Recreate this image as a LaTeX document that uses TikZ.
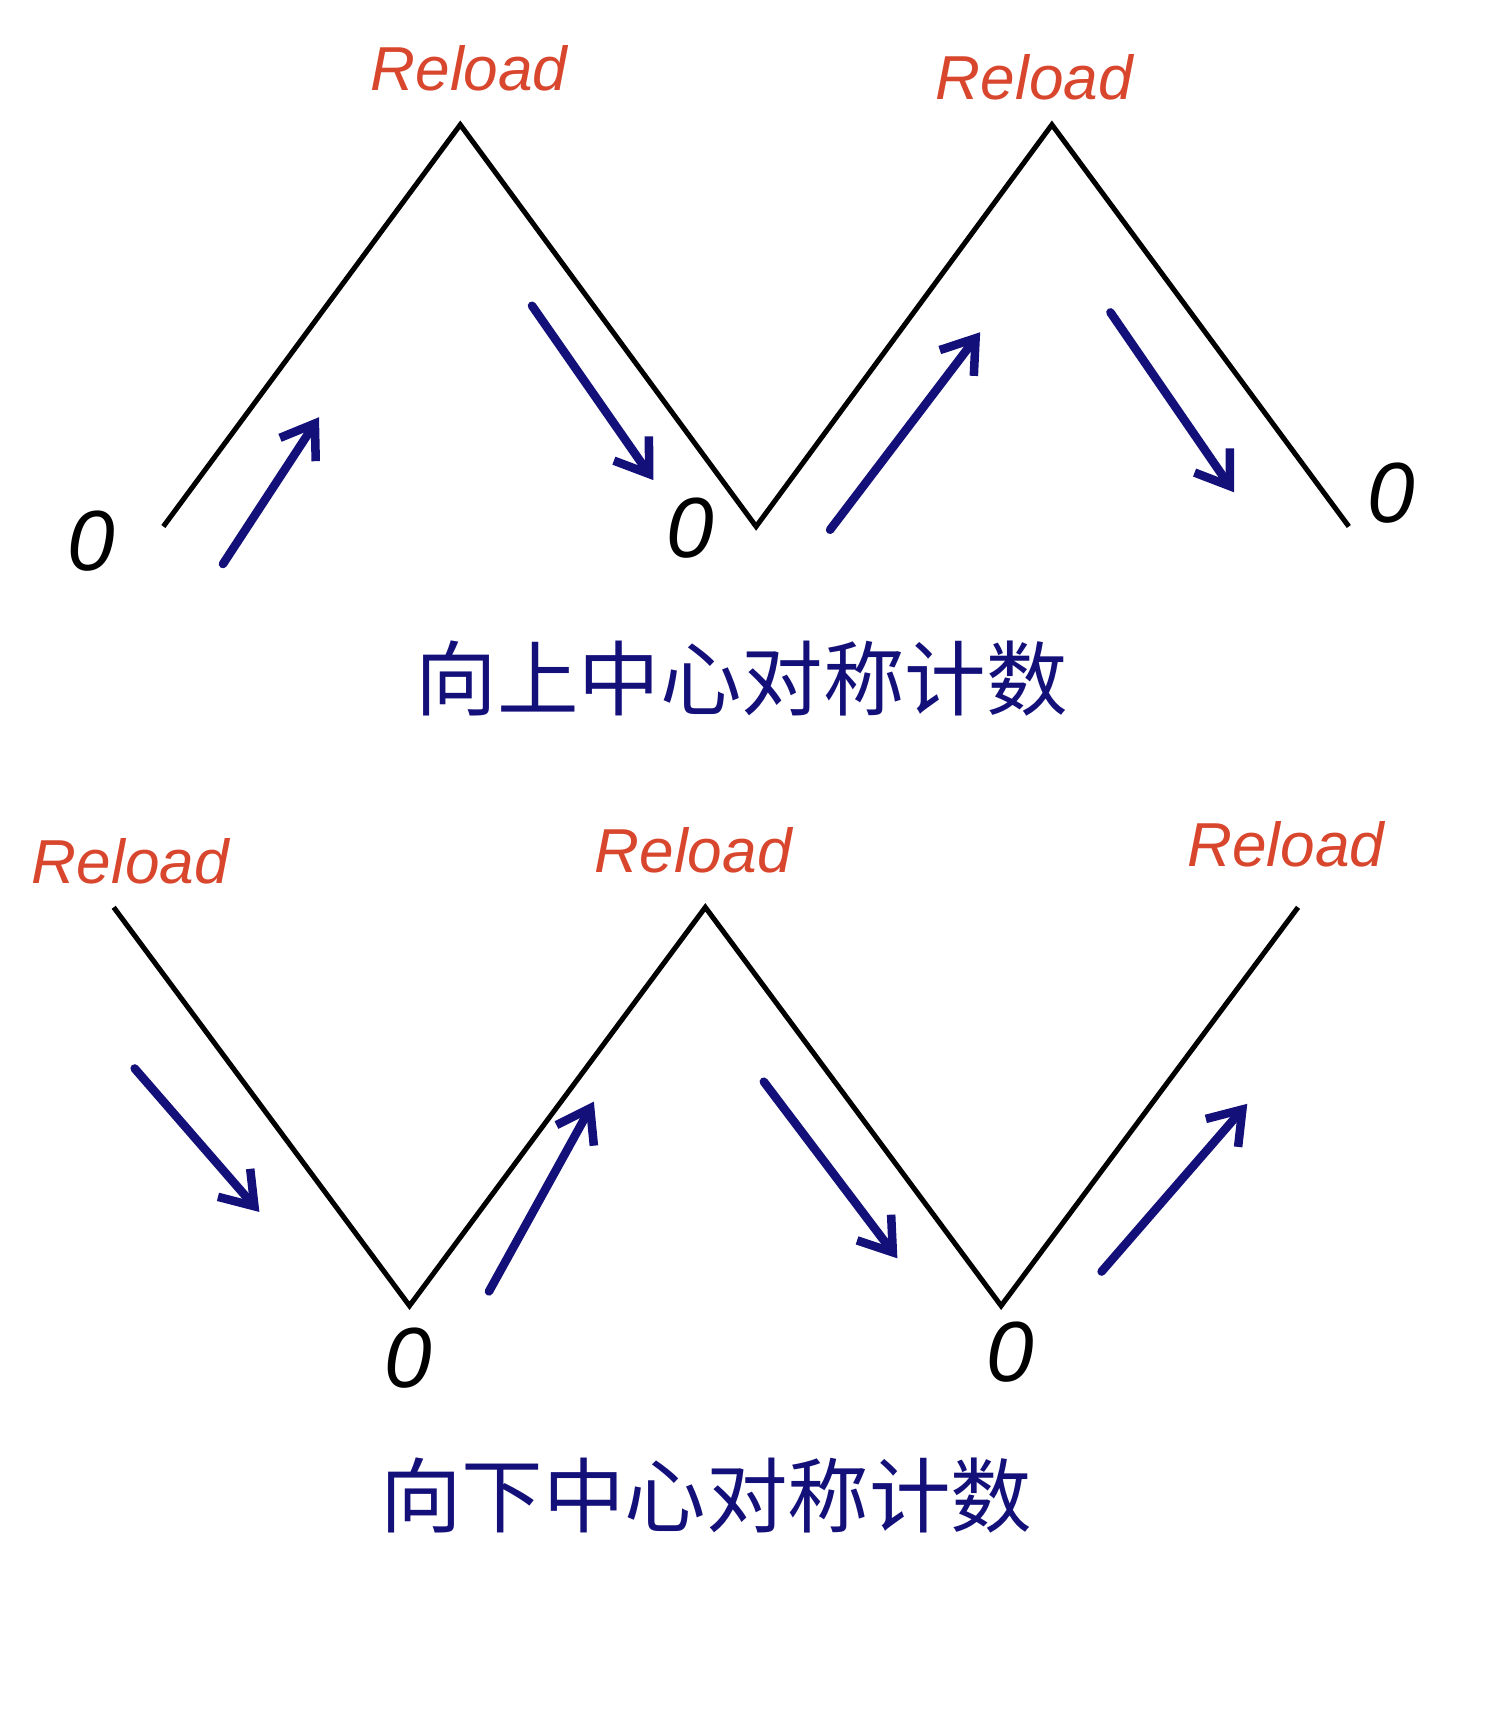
\documentclass[tikz,border=0pt]{standalone}
\usetikzlibrary{arrows.meta}
\usepackage{fontspec}
\newfontfamily\cjk{Noto Sans CJK SC}
\setmainfont{Liberation Sans}
\definecolor{rl}{HTML}{D9462E}
\definecolor{nv}{HTML}{14107A}
\begin{document}
\begin{tikzpicture}[x=0.01cm,y=-0.01cm,
  zz/.style={line width=1.3pt,black},
  ar/.style={nv,line width=2.2pt,-{Straight Barb[length=8pt,width=11pt]},line cap=round},
  rel/.style={rl,font=\fontsize{16}{18}\selectfont\itshape},
  zero/.style={black,font=\fontsize{22}{24}\selectfont\itshape},
  captext/.style={nv,font=\cjk\fontsize{21}{24}\selectfont}]
\useasboundingbox (0,0) rectangle (1360,1561);
\coordinate (a1) at (148,477); \coordinate (a2) at (417,113); \coordinate (a3) at (685,477);
\coordinate (a4) at (953,113); \coordinate (a5) at (1222,477);
\draw[zz] (a1)--(a2)--(a3)--(a4)--(a5);
\node[rel] (r1) at (425,62) {Reload};
\node[rel] (r2) at (937,70) {Reload};
\node[zero] (z1) at (83,490) {0};
\node[zero] (z2) at (625,478) {0};
\node[zero] (z3) at (1260,447) {0};
\coordinate (p1) at (202,511); \coordinate (q1) at (289,378);
\coordinate (p2) at (482,277); \coordinate (q2) at (592,435);
\coordinate (p3) at (752,480); \coordinate (q3) at (888,301);
\coordinate (p4) at (1006,283); \coordinate (q4) at (1118,446);
\foreach \i in {1,...,4} \draw[ar] (p\i)--(q\i);
\node[captext] (t1) at (672,615) {向上中心对称计数};
\coordinate (b1) at (103,822); \coordinate (b2) at (371,1183); \coordinate (b3) at (639,822);
\coordinate (b4) at (907,1183); \coordinate (b5) at (1176,822);
\draw[zz] (b1)--(b2)--(b3)--(b4)--(b5);
\node[rel] (r3) at (118,780) {Reload};
\node[rel] (r4) at (628,770) {Reload};
\node[rel] (r5) at (1165,765) {Reload};
\node[zero] (z4) at (370,1230) {0};
\node[zero] (z5) at (915,1225) {0};
\coordinate (m1) at (122,968); \coordinate (n1) at (235,1098);
\coordinate (m2) at (443,1170); \coordinate (n2) at (538,998);
\coordinate (m3) at (692,980); \coordinate (n3) at (813,1140);
\coordinate (m4) at (998,1152); \coordinate (n4) at (1130,1000);
\foreach \i in {1,...,4} \draw[ar] (m\i)--(n\i);
\node[captext] (t2) at (640,1355) {向下中心对称计数};
\end{tikzpicture}
\end{document}
